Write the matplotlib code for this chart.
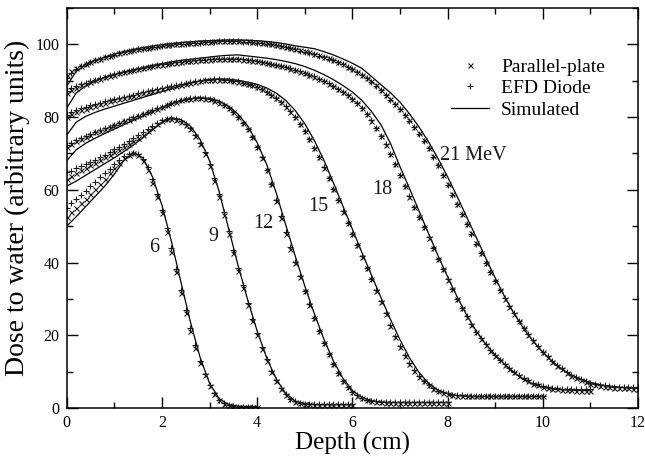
import numpy as np
import matplotlib
matplotlib.use("Agg")
import matplotlib.pyplot as plt
from matplotlib.lines import Line2D
from matplotlib.ticker import MultipleLocator

plt.rcParams['font.family'] = ['Liberation Serif', 'DejaVu Serif']

# measured points every 0.1 cm, simulated line every 0.2 cm
STEP_MEAS = 0.1
STEP_SIM = 0.2

# ---- 6 MeV ----
pp_6 = [52.5, 53.8, 55.0, 56.3, 57.5, 58.8, 60.2, 61.6, 63.0, 64.5,
        66.0, 67.4, 68.7, 69.6, 70.0, 69.5, 68.0, 65.5, 62.0, 58.0,
        53.5, 48.5, 43.0, 37.3, 31.7, 26.2, 21.2, 16.6, 12.5, 9.0,
        6.0, 3.8, 2.2, 1.2, 0.7, 0.5, 0.4, 0.4, 0.4, 0.4,
        0.4]
diode_6 = [55.0, 56.3, 57.5, 58.7, 59.8, 61.0, 62.2, 63.4, 64.6, 65.8,
           67.0, 68.2, 69.2, 69.9, 70.2, 69.8, 68.5, 66.2, 62.9, 58.9,
           54.4, 49.4, 43.9, 38.2, 32.5, 27.0, 21.9, 17.2, 13.0, 9.4,
           6.3, 4.0, 2.3, 1.3, 0.7, 0.5, 0.4, 0.4, 0.4, 0.4,
           0.4]
sim_6 = [50.0, 52.6, 55.4, 58.2, 61.0,
         64.3, 68.0, 70.2, 68.8, 63.6,
         55.8, 45.8, 34.6, 23.6, 14.0,
         6.8, 2.6, 0.9, 0.5, 0.4,
         0.4]

# ---- 9 MeV ----
pp_9 = [63.0, 63.8, 64.6, 65.4, 66.1, 66.8, 67.5, 68.2, 68.9, 69.6,
        70.3, 71.0, 71.8, 72.6, 73.4, 74.3, 75.2, 76.1, 77.0, 78.0,
        78.9, 79.5, 79.6, 79.3, 78.7, 77.9, 76.8, 74.8, 72.6, 69.9,
        66.5, 62.5, 58.0, 53.0, 47.8, 42.7, 37.8, 33.0, 28.4, 24.0,
        20.0, 16.3, 12.9, 9.9, 7.3, 5.2, 3.6, 2.4, 1.7, 1.3,
        1.1, 1.0, 0.9, 0.9, 0.9, 0.9, 0.9, 0.9, 0.9, 0.9,
        0.9]
diode_9 = [64.8, 65.3, 65.9, 66.5, 67.1, 67.7, 68.3, 69.0, 69.7, 70.4,
           71.1, 71.9, 72.7, 73.5, 74.3, 75.1, 75.9, 76.8, 77.6, 78.4,
           79.1, 79.6, 79.7, 79.4, 78.8, 78.0, 76.9, 75.2, 73.0, 70.4,
           67.1, 63.2, 58.8, 53.8, 48.6, 43.5, 38.5, 33.7, 29.0, 24.6,
           20.5, 16.8, 13.4, 10.3, 7.6, 5.5, 3.8, 2.6, 1.9, 1.4,
           1.2, 1.1, 1.0, 1.0, 1.0, 1.0, 1.0, 1.0, 1.0, 1.0,
           1.0]
sim_9 = [61.0, 62.4, 64.0, 65.6, 67.2,
         68.8, 70.5, 72.3, 74.3, 76.4,
         78.5, 79.8, 79.3, 77.5, 73.9,
         68.0, 59.6, 49.4, 39.2, 29.8,
         21.2, 13.8, 8.0, 4.0, 1.9,
         1.1, 0.9, 0.9, 0.9, 0.9,
         0.9]

# ---- 12 MeV ----
pp_12 = [71.8, 72.6, 73.3, 74.0, 74.6, 75.2, 75.8, 76.3, 76.8, 77.3,
         77.8, 78.3, 78.8, 79.3, 79.8, 80.3, 80.8, 81.3, 81.8, 82.3,
         82.8, 83.3, 83.8, 84.2, 84.6, 84.9, 85.1, 85.2, 85.2, 85.1,
         84.9, 84.5, 84.0, 83.3, 82.4, 81.3, 80.0, 78.4, 76.6, 74.4,
         71.8, 68.8, 65.4, 61.6, 56.8, 52.3, 47.9, 43.8, 39.8, 35.9,
         32.1, 28.4, 24.7, 21.2, 17.9, 14.8, 12.0, 9.5, 7.4, 5.7,
         4.4, 3.4, 2.7, 2.2, 1.9, 1.7, 1.6, 1.5, 1.5, 1.5,
         1.5, 1.5, 1.5, 1.5, 1.5, 1.5, 1.5, 1.5, 1.5, 1.5,
         1.5]
diode_12 = [72.3, 73.0, 73.6, 74.2, 74.8, 75.4, 75.9, 76.4, 76.9, 77.4,
            77.9, 78.4, 78.9, 79.4, 79.9, 80.4, 80.9, 81.4, 81.9, 82.4,
            82.9, 83.4, 83.9, 84.3, 84.7, 85.0, 85.2, 85.3, 85.3, 85.2,
            85.0, 84.6, 84.1, 83.4, 82.5, 81.4, 80.1, 78.5, 76.7, 74.5,
            71.9, 68.9, 65.5, 61.7, 57.2, 52.7, 48.3, 44.2, 40.2, 36.2,
            32.3, 28.5, 24.8, 21.3, 18.0, 14.9, 12.1, 9.6, 7.5, 5.8,
            4.5, 3.5, 2.8, 2.3, 2.0, 1.8, 1.7, 1.6, 1.6, 1.6,
            1.6, 1.6, 1.6, 1.6, 1.6, 1.6, 1.6, 1.6, 1.6, 1.6,
            1.6]
sim_12 = [68.0, 71.0, 72.8, 74.2, 75.5,
          76.7, 77.9, 79.1, 80.3, 81.5,
          82.6, 83.6, 84.4, 85.0, 85.3,
          85.1, 84.4, 83.0, 80.8, 77.6,
          73.0, 67.0, 59.2, 50.4, 41.8,
          33.6, 26.0, 19.0, 13.0, 8.2,
          4.8, 2.9, 2.0, 1.6, 1.5,
          1.5, 1.5, 1.5, 1.5, 1.5,
          1.5]

# ---- 15 MeV ----
pp_15 = [80.0, 80.8, 81.4, 81.9, 82.3, 82.7, 83.1, 83.5, 83.9, 84.3,
         84.7, 85.0, 85.3, 85.6, 85.9, 86.2, 86.5, 86.8, 87.1, 87.4,
         87.7, 88.0, 88.3, 88.6, 88.9, 89.2, 89.5, 89.7, 89.9, 90.1,
         90.2, 90.3, 90.3, 90.2, 90.1, 89.9, 89.7, 89.4, 89.1, 88.7,
         88.2, 87.6, 86.9, 86.1, 85.2, 84.1, 82.9, 81.5, 79.9, 78.1,
         76.1, 73.9, 71.5, 68.9, 66.1, 63.2, 60.2, 57.1, 54.0, 50.9,
         47.8, 44.7, 41.6, 38.5, 35.4, 32.3, 29.2, 25.8, 22.5, 19.5,
         16.8, 14.3, 12.1, 10.2, 8.6, 7.3, 6.2, 5.3, 4.6, 4.1,
         3.8, 3.5, 3.4, 3.3, 3.2, 3.2, 3.2, 3.2, 3.2, 3.2,
         3.2, 3.2, 3.2, 3.2, 3.2, 3.2, 3.2, 3.2, 3.2, 3.2,
         3.2]
diode_15 = [80.6, 81.3, 81.9, 82.4, 82.8, 83.2, 83.6, 84.0, 84.4, 84.7,
            85.0, 85.3, 85.6, 85.9, 86.2, 86.5, 86.8, 87.1, 87.4, 87.7,
            88.0, 88.3, 88.6, 88.9, 89.2, 89.4, 89.6, 89.8, 90.0, 90.2,
            90.3, 90.4, 90.4, 90.3, 90.2, 90.0, 89.8, 89.5, 89.2, 88.8,
            88.3, 87.7, 87.0, 86.2, 85.3, 84.2, 83.0, 81.6, 80.0, 78.2,
            76.2, 74.0, 71.6, 69.0, 66.2, 63.3, 60.3, 57.2, 54.1, 51.0,
            47.9, 44.8, 41.7, 38.6, 35.5, 32.4, 29.3, 26.0, 22.7, 19.7,
            17.0, 14.5, 12.3, 10.4, 8.8, 7.5, 6.4, 5.5, 4.8, 4.3,
            4.0, 3.7, 3.6, 3.5, 3.4, 3.4, 3.4, 3.4, 3.4, 3.4,
            3.4, 3.4, 3.4, 3.4, 3.4, 3.4, 3.4, 3.4, 3.4, 3.4,
            3.4]
sim_15 = [75.0, 78.6, 80.2, 81.3, 82.2,
          83.0, 83.8, 84.6, 85.4, 86.2,
          87.0, 87.8, 88.6, 89.3, 89.9,
          90.3, 90.5, 90.4, 90.1, 89.6,
          89.0, 88.0, 86.6, 84.6, 81.8,
          78.2, 73.6, 68.2, 62.0, 55.6,
          49.2, 42.8, 36.6, 30.4, 24.4,
          18.8, 13.8, 9.8, 6.8, 4.9,
          3.9, 3.4, 3.2, 3.1, 3.1,
          3.1, 3.1, 3.1, 3.1, 3.1,
          3.1]

# ---- 18 MeV ----
pp_18 = [86.5, 87.4, 88.1, 88.7, 89.2, 89.7, 90.1, 90.5, 90.9, 91.3,
         91.7, 92.0, 92.3, 92.6, 92.9, 93.2, 93.5, 93.8, 94.0, 94.2,
         94.4, 94.6, 94.8, 95.0, 95.1, 95.3, 95.4, 95.5, 95.6, 95.7,
         95.8, 95.9, 95.9, 96.0, 96.0, 95.9, 95.9, 95.8, 95.6, 95.5,
         95.3, 95.1, 94.9, 94.6, 94.3, 94.0, 93.7, 93.3, 92.9, 92.5,
         92.1, 91.6, 91.1, 90.5, 89.9, 89.2, 88.5, 87.7, 86.9, 86.0,
         85.0, 83.8, 82.4, 80.8, 79.0, 77.0, 74.8, 72.4, 69.8, 67.0,
         64.0, 61.0, 58.1, 55.3, 52.5, 49.7, 46.8, 43.9, 41.0, 38.1,
         35.3, 32.6, 30.0, 27.5, 25.1, 22.9, 20.8, 19.0, 17.3, 15.8,
         14.4, 13.1, 11.9, 10.8, 9.8, 8.9, 8.0, 7.3, 6.7, 6.2,
         5.8, 5.5, 5.3, 5.1, 5.0, 4.9, 4.9, 4.8, 4.8, 4.8,
         4.8]
diode_18 = [87.2, 87.9, 88.5, 89.0, 89.5, 89.9, 90.3, 90.7, 91.1, 91.5,
            91.8, 92.1, 92.4, 92.7, 93.0, 93.3, 93.6, 93.8, 94.1, 94.3,
            94.5, 94.7, 94.9, 95.1, 95.2, 95.4, 95.5, 95.6, 95.7, 95.8,
            95.9, 96.0, 96.0, 96.1, 96.1, 96.0, 96.0, 95.9, 95.7, 95.6,
            95.4, 95.2, 95.0, 94.7, 94.4, 94.1, 93.8, 93.4, 93.0, 92.6,
            92.2, 91.7, 91.2, 90.6, 90.0, 89.3, 88.6, 87.8, 87.0, 86.1,
            85.1, 83.9, 82.5, 80.9, 79.1, 77.1, 74.9, 72.5, 69.9, 67.1,
            64.1, 61.1, 58.2, 55.4, 52.6, 49.8, 46.9, 44.0, 41.1, 38.2,
            35.4, 32.7, 30.1, 27.6, 25.2, 23.0, 21.0, 19.2, 17.5, 16.0,
            14.6, 13.3, 12.1, 11.0, 10.0, 9.1, 8.3, 7.6, 7.0, 6.5,
            6.1, 5.8, 5.6, 5.4, 5.3, 5.2, 5.2, 5.1, 5.1, 5.1,
            5.1]
sim_18 = [82.5, 86.6, 88.6, 89.9, 90.9,
          91.7, 92.4, 93.0, 93.6, 94.2,
          94.7, 95.2, 95.6, 95.9, 96.2,
          96.5, 96.8, 97.0, 97.1, 96.8,
          96.5, 96.2, 95.8, 95.3, 94.7,
          93.9, 92.9, 91.7, 90.3, 88.7,
          86.9, 84.6, 81.6, 77.9, 72.8,
          66.4, 60.4, 54.2, 48.0, 41.9,
          36.1, 30.6, 25.6, 21.2, 17.6,
          14.6, 12.0, 9.7, 7.8, 6.5,
          5.7, 5.2, 5.0, 4.9, 4.8,
          4.8]

# ---- 21 MeV ----
pp_21 = [91.5, 92.6, 93.4, 94.1, 94.7, 95.2, 95.7, 96.1, 96.5, 96.9,
         97.3, 97.6, 97.9, 98.2, 98.5, 98.7, 98.9, 99.1, 99.3, 99.5,
         99.7, 99.9, 100.0, 100.1, 100.2, 100.3, 100.4, 100.5, 100.6, 100.7,
         100.7, 100.8, 100.8, 100.9, 100.9, 100.9, 100.9, 100.8, 100.8, 100.7,
         100.6, 100.5, 100.3, 100.1, 99.9, 99.6, 99.3, 99.0, 98.7, 98.4,
         98.1, 97.8, 97.4, 97.0, 96.6, 96.2, 95.7, 95.2, 94.6, 93.9,
         93.2, 92.5, 91.7, 90.8, 89.8, 88.7, 87.5, 86.2, 84.9, 83.6,
         82.2, 80.7, 79.1, 77.3, 75.5, 73.6, 71.5, 69.2, 66.8, 64.2,
         61.5, 58.8, 56.1, 53.4, 50.7, 48.0, 45.3, 42.6, 39.9, 37.3,
         34.8, 32.4, 30.1, 27.9, 25.8, 23.8, 21.9, 20.1, 18.4, 16.8,
         15.3, 13.9, 12.7, 11.6, 10.6, 9.7, 8.9, 8.2, 7.6, 7.1,
         6.7, 6.4, 6.1, 5.9, 5.7, 5.6, 5.5, 5.4, 5.4, 5.3,
         5.3]
diode_21 = [90.8, 92.2, 93.2, 94.0, 94.6, 95.1, 95.6, 96.0, 96.4, 96.8,
            97.2, 97.5, 97.8, 98.1, 98.4, 98.6, 98.8, 99.0, 99.2, 99.4,
            99.6, 99.8, 99.9, 100.0, 100.1, 100.2, 100.3, 100.4, 100.5, 100.6,
            100.7, 100.7, 100.8, 100.8, 100.8, 100.8, 100.8, 100.7, 100.7, 100.6,
            100.5, 100.4, 100.2, 100.0, 99.8, 99.5, 99.2, 98.9, 98.6, 98.3,
            98.0, 97.7, 97.3, 96.9, 96.5, 96.1, 95.6, 95.1, 94.5, 93.8,
            93.1, 92.4, 91.6, 90.7, 89.7, 88.6, 87.4, 86.1, 84.8, 83.5,
            82.1, 80.6, 79.0, 77.2, 75.4, 73.5, 71.4, 69.1, 66.7, 64.1,
            61.4, 58.7, 56.0, 53.3, 50.6, 47.9, 45.2, 42.5, 39.9, 37.3,
            34.9, 32.5, 30.3, 28.1, 26.0, 24.0, 22.1, 20.3, 18.6, 17.0,
            15.5, 14.2, 13.0, 11.9, 10.9, 10.0, 9.2, 8.5, 7.9, 7.4,
            7.0, 6.7, 6.4, 6.2, 6.0, 5.9, 5.8, 5.8, 5.7, 5.7,
            5.7]
sim_21 = [88.5, 92.6, 94.4, 95.6, 96.5,
          97.3, 98.0, 98.6, 99.1, 99.5,
          99.9, 100.2, 100.5, 100.7, 100.9,
          101.0, 101.1, 101.2, 101.2, 101.1,
          101.0, 100.8, 100.5, 100.1, 99.6,
          99.2, 98.8, 98.0, 97.1, 96.0,
          94.8, 93.4, 91.2, 88.9, 86.7,
          84.1, 80.9, 77.3, 73.2, 68.6,
          63.6, 58.2, 52.6, 47.0, 41.3,
          35.8, 30.6, 25.9, 21.8, 18.3,
          15.3, 12.8, 10.7, 9.1, 7.9,
          7.0, 6.4, 6.0, 5.7, 5.5,
          5.4]

parallel_plate = [pp_6, pp_9, pp_12, pp_15, pp_18, pp_21]
efd_diode = [diode_6, diode_9, diode_12, diode_15, diode_18, diode_21]
simulated = [sim_6, sim_9, sim_12, sim_15, sim_18, sim_21]

# energy labels and where they sit (depth, dose)
energy_labels = ["6", "9", "12", "15", "18", "21 MeV"]
label_pos = [(1.83, 44.0), (3.09, 47.2), (4.13, 50.6), (5.28, 55.4), (6.63, 60.2), (8.55, 69.4)]

# ────────────────────────────────────────────────────────────
fig = plt.figure(figsize=(6.45, 4.58), dpi=100)
ax = fig.add_axes([0.1034, 0.1092, 0.8857, 0.8734])

ink = '0.1'
for pp, di, sim in zip(parallel_plate, efd_diode, simulated):
    d_meas = STEP_MEAS * np.arange(len(pp))
    d_di = STEP_MEAS * np.arange(len(di))
    d_sim = STEP_SIM * np.arange(len(sim))
    ax.plot(d_sim, sim, color='black', lw=0.9)
    ax.plot(d_meas, pp, ls='none', marker='x', ms=3.6, mew=0.8, color=ink)
    ax.plot(d_di, di, ls='none', marker='+', ms=4.6, mew=0.8, color=ink)

for lab, (x, y) in zip(energy_labels, label_pos):
    ax.text(x, y, lab, fontsize=14.5, ha='center', va='center', color='0.1')

ax.set_xlim(0, 12)
ax.set_ylim(0, 110)
ax.xaxis.set_major_locator(MultipleLocator(2))
ax.xaxis.set_minor_locator(MultipleLocator(1))
ax.yaxis.set_major_locator(MultipleLocator(20))
ax.yaxis.set_minor_locator(MultipleLocator(10))
ax.tick_params(which='both', direction='in', top=True, right=True, labelsize=11.5, pad=5)
ax.tick_params(which='major', length=8, width=1.0)
ax.tick_params(which='minor', length=4.3, width=1.0)
for sp in ax.spines.values():
    sp.set_linewidth(1.1)

ax.set_xlabel("Depth (cm)", fontsize=18, labelpad=1)
ax.set_ylabel("Dose to water (arbitrary units)", fontsize=20, labelpad=4)

handles = [
    Line2D([], [], ls='none', marker='x', ms=3.6, mew=0.8, color=ink),
    Line2D([], [], ls='none', marker='+', ms=4.6, mew=0.8, color=ink),
    Line2D([], [], color='black', lw=0.9),
]
ax.legend(handles, ["Parallel-plate", "EFD Diode", "Simulated"],
          loc='upper left', bbox_to_anchor=(0.672, 0.875), frameon=False,
          fontsize=14, handlelength=2.0, handletextpad=0.6,
          labelspacing=0.2, borderpad=0, borderaxespad=0)

fig.savefig("out.png", dpi=100)
